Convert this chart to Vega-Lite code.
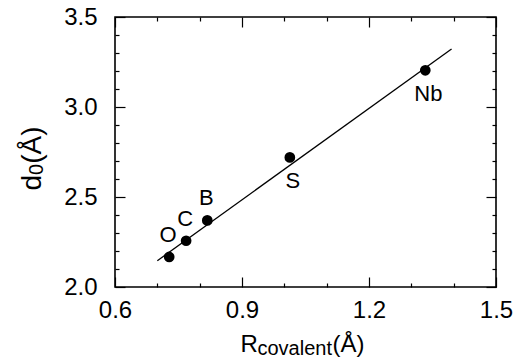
{
  "$schema": "https://vega.github.io/schema/vega-lite/v6.json",
  "width": 381,
  "height": 270,
  "autosize": {"type": "none"},
  "padding": {"left": 115, "top": 17, "right": 19, "bottom": 75},
  "background": "white",
  "config": {
    "view": {"stroke": "black", "strokeWidth": 1.6},
    "axis": {
      "domain": false,
      "grid": false,
      "tickColor": "black",
      "tickWidth": 1.2,
      "labelColor": "black",
      "labelFont": "Liberation Sans",
      "labelFontSize": 24,
      "titleFont": "Liberation Sans",
      "titleColor": "black",
      "titleFontWeight": "normal",
      "titleAlign": "left",
      "titleBaseline": "alphabetic"
    }
  },
  "datasets": {
    "pts": [
      {"el": "O", "r": 0.728, "d": 2.167},
      {"el": "C", "r": 0.768, "d": 2.257},
      {"el": "B", "r": 0.818, "d": 2.37},
      {"el": "S", "r": 1.013, "d": 2.72},
      {"el": "Nb", "r": 1.333, "d": 3.204}
    ],
    "fit": [
      {"r": 0.70, "d": 2.146},
      {"r": 1.395, "d": 3.322}
    ]
  },
  "resolve": {"axis": {"x": "independent", "y": "independent"}},
  "layer": [
    {
      "data": {"name": "pts"},
      "mark": {"type": "circle", "size": 115, "color": "black", "opacity": 1},
      "encoding": {
        "x": {
          "field": "r", "type": "quantitative",
          "scale": {"domain": [0.6, 1.5], "nice": false, "zero": false},
          "axis": {
            "orient": "bottom", "offset": -10, "tickSize": 10,
            "values": [0.6, 0.9, 1.2, 1.5], "format": ".1f",
            "labelPadding": 11, "labelFlush": false,
            "title": "R", "titleFontSize": 24, "titleX": 125, "titleY": 74
          }
        },
        "y": {
          "field": "d", "type": "quantitative",
          "scale": {"domain": [2.0, 3.5], "nice": false, "zero": false},
          "axis": {
            "orient": "left", "offset": -10, "tickSize": 10,
            "values": [2.0, 2.5, 3.0, 3.5], "format": ".1f",
            "labelPadding": 18, "labelFlush": false,
            "title": "d", "titleFontSize": 28, "titleAngle": 270, "titleX": -85, "titleY": 173
          }
        }
      }
    },
    {
      "data": {"name": "fit"},
      "mark": {"type": "line", "color": "black", "strokeWidth": 1.3},
      "encoding": {
        "x": {
          "field": "r", "type": "quantitative",
          "scale": {"domain": [0.6, 1.5], "nice": false, "zero": false},
          "axis": {
            "orient": "top", "offset": -10, "tickSize": 10,
            "values": [0.6, 0.9, 1.2, 1.5], "labels": false,
            "title": "(Å)", "titleFontSize": 24, "titleX": 217, "titleY": 324
          }
        },
        "y": {
          "field": "d", "type": "quantitative",
          "scale": {"domain": [2.0, 3.5], "nice": false, "zero": false},
          "axis": {
            "orient": "right", "offset": -10, "tickSize": 10,
            "values": [2.0, 2.5, 3.0, 3.5], "labels": false,
            "title": "(Å)", "titleFontSize": 28, "titleAngle": 270, "titleX": -446, "titleY": 146.3
          }
        }
      }
    },
    {
      "data": {"name": "pts"},
      "transform": [{"filter": "indexof(['O','C','B'], datum.el) >= 0"}],
      "mark": {"type": "text", "font": "Liberation Sans", "fontSize": 22, "color": "black", "align": "center", "baseline": "alphabetic", "dy": -15, "dx": -1},
      "encoding": {
        "text": {"field": "el"},
        "x": {
          "field": "r", "type": "quantitative",
          "scale": {"domain": [0.6, 1.5], "nice": false, "zero": false},
          "axis": {
            "orient": "bottom", "offset": -4, "tickSize": 4,
            "values": [0.7, 0.8, 1.0, 1.1, 1.3, 1.4], "labels": false,
            "title": "covalent", "titleFontSize": 20, "titleX": 142, "titleY": 71
          }
        },
        "y": {
          "field": "d", "type": "quantitative",
          "scale": {"domain": [2.0, 3.5], "nice": false, "zero": false},
          "axis": {
            "orient": "left", "offset": -4, "tickSize": 4,
            "values": [2.1, 2.2, 2.3, 2.4, 2.6, 2.7, 2.8, 2.9, 3.1, 3.2, 3.3, 3.4], "labels": false,
            "title": "0", "titleFontSize": 20, "titleAngle": 270, "titleX": -77, "titleY": 157.4
          }
        }
      }
    },
    {
      "data": {"name": "pts"},
      "transform": [{"filter": "indexof(['S','Nb'], datum.el) >= 0"}],
      "mark": {"type": "text", "font": "Liberation Sans", "fontSize": 22, "color": "black", "align": "center", "baseline": "alphabetic", "dy": 31, "dx": 3},
      "encoding": {
        "text": {"field": "el"},
        "x": {
          "field": "r", "type": "quantitative",
          "scale": {"domain": [0.6, 1.5], "nice": false, "zero": false},
          "axis": {
            "orient": "top", "offset": -4, "tickSize": 4,
            "values": [0.7, 0.8, 1.0, 1.1, 1.3, 1.4], "labels": false, "title": null
          }
        },
        "y": {
          "field": "d", "type": "quantitative",
          "scale": {"domain": [2.0, 3.5], "nice": false, "zero": false},
          "axis": {
            "orient": "right", "offset": -4, "tickSize": 4,
            "values": [2.1, 2.2, 2.3, 2.4, 2.6, 2.7, 2.8, 2.9, 3.1, 3.2, 3.3, 3.4], "labels": false, "title": null
          }
        }
      }
    }
  ]
}
